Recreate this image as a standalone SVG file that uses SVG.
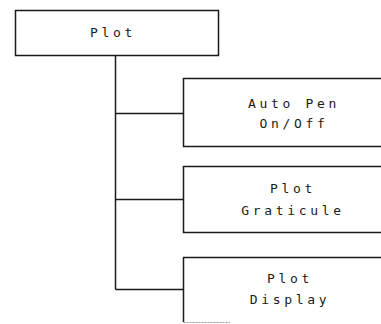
<svg xmlns="http://www.w3.org/2000/svg" width="381" height="324" viewBox="0 0 381 324">
<style>
.box{fill:none;stroke:#1a1a1a;stroke-width:1.5}
.ln{fill:none;stroke:#1a1a1a;stroke-width:1.5}
.t{font-family:"DejaVu Sans Mono","Liberation Mono",monospace;font-size:13px;letter-spacing:3.7px;fill:#1a1a1a;text-anchor:middle}
</style>
<rect width="381" height="324" fill="#ffffff"/>
<g id="connectors">
<path class="ln" d="M115.5 55.5 V289.5"/>
<path class="ln" d="M115.5 113.5 H183.5"/>
<path class="ln" d="M115.5 199.5 H183.5"/>
<path class="ln" d="M115.5 289.5 H183.5"/>
</g>
<g id="plot">
<rect class="box" x="15.5" y="10.5" width="203" height="45"/>
<text class="t" x="113" y="37">Plot</text>
</g>
<g id="auto-pen">
<path class="box" d="M381 78.5 H183.5 V146.5 H381"/>
<text class="t" x="294" y="108">Auto Pen</text>
<text class="t" x="294" y="128">On/Off</text>
</g>
<g id="plot-graticule">
<path class="box" d="M381 166.5 H183.5 V232.5 H381"/>
<text class="t" x="293" y="193">Plot</text>
<text class="t" x="293" y="215">Graticule</text>
</g>
<g id="plot-display">
<path class="box" d="M381 257.5 H183.5 V322"/>
<path d="M183.5 322.5 H230" stroke="#999" stroke-width="1" stroke-dasharray="2 1"/>
<text class="t" x="290" y="283">Plot</text>
<text class="t" x="290" y="304">Display</text>
</g>
</svg>
